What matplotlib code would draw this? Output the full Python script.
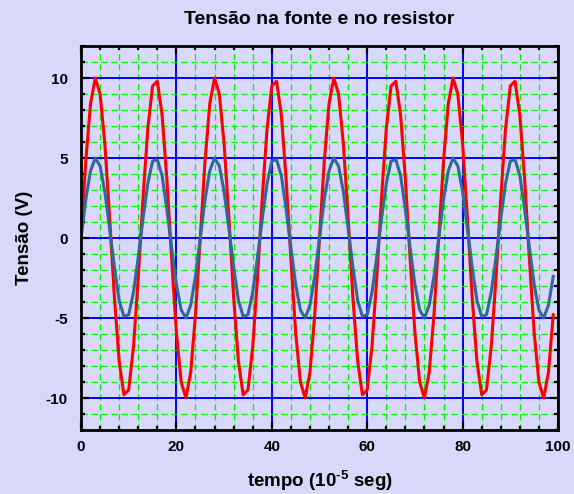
import matplotlib
matplotlib.use("Agg")
import matplotlib.pyplot as plt
from matplotlib.ticker import MultipleLocator

plt.rcParams['font.family'] = ['Liberation Sans', 'DejaVu Sans']
plt.rcParams['axes.unicode_minus'] = False
plt.rcParams['mathtext.fontset'] = 'custom'
plt.rcParams['mathtext.rm'] = 'Liberation Sans:bold'
plt.rcParams['mathtext.bf'] = 'Liberation Sans:bold'

# tempo (10^-5 seg), one sample per unit
tempo = list(range(100))

# tensao na fonte (V)
fonte = [
    0.0, 4.8, 8.4, 10.0, 9.0, 5.9, 1.3, -3.7, -7.7, -9.8, -9.5, -6.8, -2.5,
    2.5, 6.8, 9.5, 9.8, 7.7, 3.7, -1.3, -5.9, -9.0, -10.0, -8.4, -4.8,
    0.0, 4.8, 8.4, 10.0, 9.0, 5.9, 1.3, -3.7, -7.7, -9.8, -9.5, -6.8, -2.5,
    2.5, 6.8, 9.5, 9.8, 7.7, 3.7, -1.3, -5.9, -9.0, -10.0, -8.4, -4.8,
    0.0, 4.8, 8.4, 10.0, 9.0, 5.9, 1.3, -3.7, -7.7, -9.8, -9.5, -6.8, -2.5,
    2.5, 6.8, 9.5, 9.8, 7.7, 3.7, -1.3, -5.9, -9.0, -10.0, -8.4, -4.8,
    0.0, 4.8, 8.4, 10.0, 9.0, 5.9, 1.3, -3.7, -7.7, -9.8, -9.5, -6.8, -2.5,
    2.5, 6.8, 9.5, 9.8, 7.7, 3.7, -1.3, -5.9, -9.0, -10.0, -8.4, -4.8,
]

# tensao no resistor (V)
resistor = [
    0.0, 2.4, 4.2, 5.0, 4.5, 2.9, 0.6, -1.8, -3.9, -4.9, -4.8, -3.4, -1.2,
    1.2, 3.4, 4.8, 4.9, 3.9, 1.8, -0.6, -2.9, -4.5, -5.0, -4.2, -2.4,
    0.0, 2.4, 4.2, 5.0, 4.5, 2.9, 0.6, -1.8, -3.9, -4.9, -4.8, -3.4, -1.2,
    1.2, 3.4, 4.8, 4.9, 3.9, 1.8, -0.6, -2.9, -4.5, -5.0, -4.2, -2.4,
    0.0, 2.4, 4.2, 5.0, 4.5, 2.9, 0.6, -1.8, -3.9, -4.9, -4.8, -3.4, -1.2,
    1.2, 3.4, 4.8, 4.9, 3.9, 1.8, -0.6, -2.9, -4.5, -5.0, -4.2, -2.4,
    0.0, 2.4, 4.2, 5.0, 4.5, 2.9, 0.6, -1.8, -3.9, -4.9, -4.8, -3.4, -1.2,
    1.2, 3.4, 4.8, 4.9, 3.9, 1.8, -0.6, -2.9, -4.5, -5.0, -4.2, -2.4,
]

bg = "#d8d8fa"
fig = plt.figure(figsize=(5.74, 4.94), dpi=100, facecolor=bg)
ax = fig.add_axes([81 / 574, 64 / 494, 477 / 574, 384 / 494], facecolor=bg)

ax.plot(tempo, fonte, color="#ff0000", linewidth=2.2, zorder=3)
ax.plot(tempo, resistor, color="#336699", linewidth=2.2, zorder=4)

ax.set_xlim(0, 100)
ax.set_ylim(-12, 12)
ax.xaxis.set_major_locator(MultipleLocator(20))
ax.xaxis.set_minor_locator(MultipleLocator(4))
ax.yaxis.set_major_locator(MultipleLocator(5))
ax.yaxis.set_minor_locator(MultipleLocator(1))

ax.set_axisbelow(True)
ax.grid(which="minor", color="#00ee00", linestyle=(0, (5, 3)), linewidth=0.9)
ax.grid(which="major", color="#0000ff", linestyle="-", linewidth=1.4)

for s in ax.spines.values():
    s.set_linewidth(2.0)
    s.set_zorder(5)

ax.tick_params(which="both", direction="in", top=True, right=True,
               color="black", width=1.6)
ax.tick_params(which="major", length=6, labelsize=11)
ax.tick_params(axis="x", which="major", pad=7.5)
ax.tick_params(axis="y", which="major", pad=9.5)
ax.tick_params(which="minor", length=3)
for lab in ax.get_xticklabels() + ax.get_yticklabels():
    lab.set_fontweight("bold")

ax.set_title("Tensão na fonte e no resistor", fontsize=14,
             fontweight="bold", pad=16)
ax.set_xlabel("tempo (10$^{\\text{-5}}$ seg)", fontsize=13.5,
              fontweight="bold", labelpad=10)
ax.set_ylabel("Tensão (V)", fontsize=13.5, fontweight="bold", labelpad=9)

fig.savefig("out.png", dpi=100, facecolor=bg)
